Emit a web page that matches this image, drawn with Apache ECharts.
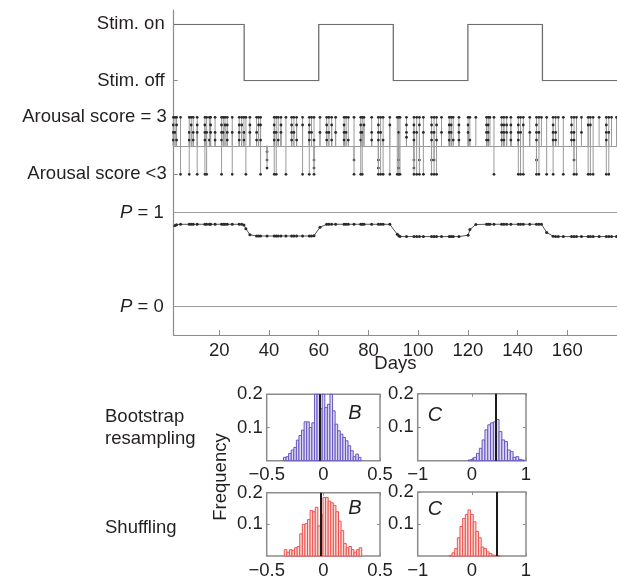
<!DOCTYPE html>
<html><head><meta charset="utf-8">
<script src="https://cdn.jsdelivr.net/npm/echarts@6/dist/echarts.min.js"></script>
<style>html,body{margin:0;padding:0;background:#fff}#c{width:617px;height:580px}</style>
</head><body><div id="c"></div>
<script>
// ---------------- data ----------------
const dayTicks = [20, 40, 60, 80, 100, 120, 140, 160];
const dayMin = 1.65, dayMax = 180;
const stimDays  = [1.65, 30, 60, 90, 120, 150, 180];
const stimState = [1, 0, 1, 0, 1, 0, 0];

// arousal observations: [day, plotted level] (level > 0: score = 3, level < 0: score < 3)
const arousalObs = [
[1.5,1],[1.5,0.73],[1.5,0.47],[1.5,0.2],[2.2,1],[2.2,0.47],[2.8,1],[2.8,0.73],[2.8,0.2],
[4.4,1],[4.4,-1],
[7.9,1],[7.9,0.47],[7.9,0.2],[7.9,-1],[8.7,1],[8.7,0.73],[9.5,1],[9.5,0.47],[9.5,0.2],
[11.1,1],[11.1,0.73],[11.1,0.47],[11.1,-1],
[14.2,1],[14.2,0.73],[14.2,0.47],[14.2,0.2],[14.2,-1],[14.9,1],[14.9,0.47],[14.9,-1],[16.0,1],[16.0,0.2],
[16.5,1],[16.5,0.73],[16.5,0.47],[18.3,1],[18.3,0.47],[18.3,0.2],
[20.9,1],[20.9,0.73],[20.9,0.47],[20.9,0.2],[20.9,-1],[21.6,1],[21.6,0.47],[22.3,1],[22.3,0.73],
[23.2,1],[23.2,0.73],[23.2,0.47],[23.2,0.2],[25.2,1],[25.2,0.47],[25.2,-1],
[28.0,1],[28.0,0.73],[28.0,0.47],[28.0,0.2],[29.0,1],[29.0,0.73],[29.9,1],[29.9,0.47],[29.9,0.2],[30.7,1],[30.7,-1],
[32.3,1],[32.3,0.73],[32.3,0.47],
[35.0,1],[35.0,0.47],[35.0,0.2],[35.8,1],[35.8,0.73],[36.6,1],[36.6,0.73],[36.6,0.2],[36.6,-1],
[39.2,-0.21],[39.2,-0.5],[39.2,-0.78],
[42.1,1],[42.1,0.73],[42.1,0.47],[42.1,0.2],[42.1,-1],[42.9,1],[42.9,0.47],[42.9,-1],[43.7,1],[43.7,0.2],
[44.8,1],[44.8,0.73],[44.8,0.47],[46.8,1],[46.8,-1],
[49.1,1],[49.1,0.73],[49.1,0.47],[49.1,0.2],[50.0,1],[50.0,0.47],[51.1,1],[51.1,0.73],[51.1,0.2],
[53.5,1],[53.5,0.73],[53.5,-1],
[56.2,1],[56.2,0.73],[56.2,0.47],[56.2,0.2],[56.2,-1],[57.1,1],[57.1,0.47],[58.1,1],[58.1,0.2],[58.1,-0.5],[58.1,-0.78],[58.1,-1],
[60.5,1],[60.5,0.47],
[63.2,1],[63.2,0.73],[63.2,0.47],[63.2,0.2],[64.1,1],[64.1,0.47],[65.2,1],[65.2,0.73],[65.2,0.2],
[66.8,1],[66.8,0.47],
[70.2,1],[70.2,0.73],[70.2,0.47],[70.2,0.2],[71.0,1],[71.0,0.47],[71.9,1],[71.9,0.2],
[74.2,1],[74.2,-0.5],[74.2,-1],
[76.9,1],[76.9,0.73],[76.9,0.47],[76.9,0.2],[76.9,-1],[77.5,1],[77.5,0.47],[77.5,-1],[78.2,1],[78.2,0.73],
[81.3,1],[81.3,0.47],[81.3,0.2],
[84.0,1],[84.0,0.73],[84.0,0.47],[84.0,0.2],[84.0,-0.5],[84.0,-0.78],[84.0,-1],[84.9,1],[84.9,0.47],[84.9,-1],[85.9,1],[85.9,0.2],[85.9,-1],
[88.6,1],[88.6,0.73],[88.6,-1],
[91.6,1],[91.6,-1],[92.2,1],[92.2,0.47],[92.2,-0.5],[92.2,-0.78],[92.2,-1],[92.7,1],[92.7,-1],
[95.3,1],[95.3,0.73],[95.3,0.47],[95.3,0.3],
[98.3,1],[98.3,0.73],[98.3,0.47],[98.3,0.2],[98.3,-0.5],[98.3,-0.78],[98.3,-1],[99.4,1],[99.4,0.47],[99.4,-1],[100.5,1],[100.5,0.73],[100.5,-0.5],[100.5,-1],
[102.1,1],[102.1,0.47],[102.1,-1],
[105.4,1],[105.4,0.73],[105.4,0.47],[105.4,0.2],[105.4,-0.5],[105.4,-1],[106.4,1],[106.4,0.47],[106.4,-0.5],[106.4,-1],[107.4,1],[107.4,0.73],[107.4,0.2],[107.4,-1],
[109.4,1],[109.4,0.47],
[112.5,1],[112.5,0.73],[112.5,0.47],[112.5,0.2],[113.3,1],[113.3,0.73],[113.3,0.47],[114.1,1],[114.1,0.2],
[116.4,1],[116.4,0.73],[116.4,0.47],[116.4,0.2],
[120.1,1],[120.1,0.73],[120.1,0.47],[120.8,1],[120.8,0.2],
[123.2,1],
[127.5,1],[127.5,0.73],[127.5,0.47],[127.5,0.2],[128.2,1],[128.2,0.73],[128.2,0.47],[128.2,0.2],[128.9,1],
[130.5,1],[130.5,-1],
[133.6,1],[133.6,0.73],[133.6,0.47],[133.6,0.2],[134.5,1],[134.5,0.73],[134.5,0.47],[134.5,0.2],[135.6,1],[135.6,0.73],[135.6,0.47],
[137.3,1],[137.3,0.73],[137.3,0.47],[137.3,0.2],
[140.3,1],[140.3,0.73],[140.3,0.47],[140.3,0.2],[140.3,-1],[141.2,1],[141.2,0.47],[141.2,-1],[142.3,1],[142.3,0.73],[142.3,-1],
[144.9,1],[144.9,0.47],
[147.6,1],[147.6,0.73],[147.6,0.47],[147.6,0.2],[147.6,-0.5],[147.6,-1],[148.6,1],[148.6,0.47],[148.6,-1],[149.6,1],
[151.7,1],[151.7,-1],
[154.3,1],[154.3,0.73],[154.3,0.47],[154.3,0.2],[154.3,-1],[155.3,1],[155.3,0.47],[155.3,0.2],[156.4,1],
[158.4,1],[158.4,-1],
[161.7,1],[161.7,0.73],[161.7,0.47],[161.7,0.2],[162.7,1],[162.7,0.47],[162.7,0.2],[162.7,-0.5],[162.7,-1],[163.7,1],[163.7,-1],
[165.7,1],[165.7,0.47],
[168.4,1],[168.4,0.73],[168.4,-1],[169.3,1],[169.3,0.73],[169.3,-1],[170.4,1],[170.4,-1],
[172.8,1],
[175.7,1],[175.7,0.73],[175.7,0.47],[175.7,0.2],[175.7,-1],[176.7,1],[176.7,0.47],[176.7,-1],[177.8,1],
[179.8,1]
];

// posterior probability P per observed day
const pDays = [1.5,2.2,2.8,4.4,7.9,8.7,9.5,11.1,14.2,14.9,16.0,16.5,18.3,20.9,21.6,22.3,23.2,25.2,28.0,29.0,29.9,30.7,32.3,35.0,35.8,36.6,39.2,42.1,42.9,43.7,44.8,46.8,49.1,50.0,51.1,53.5,56.2,57.1,58.1,60.5,63.2,64.1,65.2,66.8,70.2,71.0,71.9,74.2,76.9,77.5,78.2,81.3,84.0,84.9,85.9,88.6,91.6,92.2,92.7,95.3,98.3,99.4,100.5,102.1,105.4,106.4,107.4,109.4,112.5,113.3,114.1,116.4,120.1,120.8,123.2,127.5,128.2,128.9,130.5,133.6,134.5,135.6,137.3,140.3,141.2,142.3,144.9,147.6,148.6,149.6,151.7,154.3,155.3,156.4,158.4,161.7,162.7,163.7,165.7,168.4,169.3,170.4,172.8,175.7,176.7,177.8,179.8];
const pValues = [0.85,0.865,0.872,0.876,0.877,0.877,0.877,0.877,0.877,0.877,0.877,0.877,0.877,0.877,0.877,0.877,0.877,0.877,0.877,0.877,0.868,0.83,0.765,0.753,0.752,0.752,0.752,0.752,0.752,0.752,0.752,0.752,0.752,0.752,0.752,0.752,0.752,0.752,0.755,0.845,0.876,0.877,0.877,0.877,0.877,0.877,0.877,0.877,0.877,0.877,0.877,0.877,0.877,0.877,0.877,0.876,0.77,0.755,0.748,0.746,0.746,0.746,0.746,0.746,0.746,0.746,0.746,0.746,0.746,0.746,0.746,0.746,0.76,0.82,0.874,0.877,0.877,0.877,0.877,0.877,0.877,0.877,0.877,0.877,0.877,0.877,0.877,0.877,0.877,0.877,0.79,0.75,0.747,0.746,0.746,0.746,0.746,0.746,0.746,0.746,0.746,0.746,0.746,0.746,0.746,0.746,0.746];

// histograms: first bin edge, bin width, frequencies, observed value
const bootBStart = -0.352, bootBWidth = 0.0228;
const bootBFreq = [0.01,0.012,0.022,0.032,0.04,0.062,0.076,0.092,0.117,0.117,0.1,0.114,0.21,0.21,0.157,0.21,0.16,0.17,0.21,0.15,0.11,0.09,0.08,0.07,0.06,0.045,0.03,0.012,0.02,0.01];
const bootBObs = -0.03;
const bootCStart = -0.07, bootCWidth = 0.052;
const bootCFreq = [0.002,0.004,0.01,0.022,0.037,0.062,0.092,0.107,0.113,0.116,0.123,0.087,0.062,0.057,0.032,0.027,0.01,0.012,0.004,0.002];
const bootCObs = 0.45;
const shufBStart = -0.345, shufBWidth = 0.0228;
const shufBFreq = [0.02,0.012,0.02,0.018,0.026,0.03,0.07,0.1,0.102,0.115,0.144,0.14,0.154,0.095,0.13,0.185,0.185,0.173,0.168,0.16,0.14,0.11,0.08,0.04,0.026,0.03,0.02,0.012,0.02,0.026];
const shufBObs = -0.02;
const shufCStart = -0.415, shufCWidth = 0.049;
const shufCFreq = [0.002,0.01,0.023,0.057,0.092,0.117,0.13,0.144,0.13,0.107,0.077,0.057,0.028,0.023,0.013,0.008,0.003,0.002,0.001];
const shufCObs = 0.46;

// ---------------- chart ----------------
const FONT = '"Liberation Sans", Arial, Helvetica, sans-serif';
const TXT = '#231f20';
const AX = '#8c8c8c';
const chart = echarts.init(document.getElementById('c'), null, {renderer: 'canvas'});

function binsOf(start, width, freq) {
  return freq.map((f, i) => [start + i * width, start + (i + 1) * width, f]);
}
function histRender(edge, fill) {
  return function (params, api) {
    const a = api.coord([api.value(0), api.value(2)]);
    const b = api.coord([api.value(1), 0]);
    const cs = params.coordSys;
    const r = echarts.graphic.clipRectByRect(
      {x: a[0], y: a[1], width: b[0] - a[0], height: b[1] - a[1]},
      {x: cs.x, y: cs.y, width: cs.width, height: cs.height});
    if (!r) return;
    return {type: 'rect', shape: r, style: {fill: fill, stroke: edge, lineWidth: 1}};
  };
}
const grids = [
  {left: 173.7, right: 0, top: 10, bottom: 245},
  {left: 173.7, right: 0, top: 24.3, height: 56.4},
  {left: 173.7, right: 0, top: 117.3, height: 57},
  {left: 266.7, top: 394.3, width: 113.3, height: 66.4},
  {left: 417.7, top: 393.7, width: 108.3, height: 67},
  {left: 266.7, top: 492.7, width: 113.3, height: 68},
  {left: 417.7, top: 492, width: 108.3, height: 67.3}
];
grids.forEach((g, i) => {
  g.containLabel = false;
  if (i >= 3) { g.show = true; g.borderColor = AX; g.borderWidth = 1.5; g.backgroundColor = 'transparent'; }
});

const lbl = {fontFamily: FONT, fontSize: 18.5, color: TXT};
const xAxes = [
  {gridIndex: 0, type: 'value', min: dayMin, max: dayMax,
   axisLine: {show: true, onZero: false, lineStyle: {color: AX, width: 1.2}},
   axisTick: {show: true, inside: true, length: 5, lineStyle: {color: AX}, customValues: dayTicks},
   axisLabel: Object.assign({margin: 6, customValues: dayTicks}, lbl),
   splitLine: {show: false},
   name: 'Days', nameLocation: 'middle', nameGap: 19, nameMoveOverlap: false, nameTextStyle: lbl},
  {gridIndex: 1, type: 'value', min: dayMin, max: dayMax, show: false},
  {gridIndex: 2, type: 'value', min: dayMin, max: dayMax, show: false}
];
const yAxes = [
  {gridIndex: 0, type: 'value', min: -0.301, max: 3.156,
   axisLine: {show: true, onZero: false, lineStyle: {color: AX, width: 1.2}},
   axisTick: {show: true, inside: true, length: 4, lineStyle: {color: AX}, customValues: [0, 1]},
   axisLabel: Object.assign({margin: 10, customValues: [0, 1],
     formatter: v => '{i|P} = ' + v,
     rich: {i: {fontStyle: 'italic', fontFamily: FONT, fontSize: 18.5, color: TXT}}}, lbl),
   splitLine: {show: false}},
  {gridIndex: 1, type: 'value', min: 0, max: 1,
   axisLine: {show: false, onZero: false},
   axisTick: {show: true, inside: true, length: 4, lineStyle: {color: AX}, customValues: [0, 1]},
   axisLabel: Object.assign({margin: 9, customValues: [0, 1],
     formatter: v => v === 1 ? 'Stim. on' : 'Stim. off'}, lbl),
   splitLine: {show: false}},
  {gridIndex: 2, type: 'value', min: -1, max: 1,
   axisLine: {show: false, onZero: false},
   axisTick: {show: true, inside: true, length: 4, lineStyle: {color: AX}, customValues: [-1, 1]},
   axisLabel: Object.assign({margin: 7, customValues: [-1, 1],
     formatter: v => v === 1 ? 'Arousal score = 3' : 'Arousal score <3'}, lbl),
   splitLine: {show: false}}
];
const minus = v => (v < 0 ? '\u2212' + (-v) : '' + v);
const histCfg = [
  {g: 3, min: -0.5, max: 0.5, ticks: [-0.5, 0, 0.5]},
  {g: 4, min: -1, max: 1, ticks: [-1, 0, 1]},
  {g: 5, min: -0.5, max: 0.5, ticks: [-0.5, 0, 0.5]},
  {g: 6, min: -1, max: 1, ticks: [-1, 0, 1]}
];
const histXIdx = [], histYIdx = [];
histCfg.forEach(h => {
  histXIdx.push(xAxes.length);
  xAxes.push({gridIndex: h.g, type: 'value', min: h.min, max: h.max, position: 'bottom',
    axisLine: {show: false, onZero: false},
    axisTick: {show: true, inside: true, length: 3, lineStyle: {color: AX}, customValues: h.ticks},
    axisLabel: Object.assign({margin: 5, customValues: h.ticks, formatter: minus}, lbl),
    splitLine: {show: false}});
  xAxes.push({gridIndex: h.g, type: 'value', min: h.min, max: h.max, position: 'top',
    axisLine: {show: false, onZero: false},
    axisTick: {show: true, inside: true, length: 3, lineStyle: {color: AX}, customValues: h.ticks},
    axisLabel: {show: false}, splitLine: {show: false}});
  histYIdx.push(yAxes.length);
  yAxes.push({gridIndex: h.g, type: 'value', min: 0, max: 0.2, position: 'left',
    axisLine: {show: false, onZero: false},
    axisTick: {show: true, inside: true, length: 3, lineStyle: {color: AX}, customValues: [0.1, 0.2]},
    axisLabel: Object.assign({margin: 4, customValues: [0.1, 0.2], formatter: v => v.toFixed(1)}, lbl),
    splitLine: {show: false}});
  yAxes.push({gridIndex: h.g, type: 'value', min: 0, max: 0.2, position: 'right',
    axisLine: {show: false, onZero: false},
    axisTick: {show: true, inside: true, length: 3, lineStyle: {color: AX}, customValues: [0.1]},
    axisLabel: {show: false}, splitLine: {show: false}});
});

const BLUE = '#6656c0', BLUEF = '#dcd7f1', RED = '#ec5350', REDF = '#fcd9d5';
const hists = [
  {bins: binsOf(bootBStart, bootBWidth, bootBFreq), obs: bootBObs, e: BLUE, f: BLUEF},
  {bins: binsOf(bootCStart, bootCWidth, bootCFreq), obs: bootCObs, e: BLUE, f: BLUEF},
  {bins: binsOf(shufBStart, shufBWidth, shufBFreq), obs: shufBObs, e: RED, f: REDF},
  {bins: binsOf(shufCStart, shufCWidth, shufCFreq), obs: shufCObs, e: RED, f: REDF}
];

const series = [
  {type: 'line', xAxisIndex: 1, yAxisIndex: 1, step: 'end', symbol: 'none',
   data: stimDays.map((d, i) => [d, stimState[i]]),
   lineStyle: {color: '#6e6e6e', width: 1.3}, silent: true, animation: false},
  {type: 'custom', xAxisIndex: 2, yAxisIndex: 2, data: arousalObs, animation: false, silent: true,
   renderItem: function (params, api) {
     const p0 = api.coord([api.value(0), 0]);
     const p1 = api.coord([api.value(0), api.value(1)]);
     return {type: 'group', children: [
       {type: 'line', shape: {x1: p0[0], y1: p0[1], x2: p1[0], y2: p1[1]}, style: {stroke: '#9a9a9a', lineWidth: 1}},
       {type: 'circle', shape: {cx: p1[0], cy: p1[1], r: 1.4}, style: {fill: '#2a2a2a'}}
     ]};
   },
   markLine: {silent: true, symbol: 'none', label: {show: false},
     lineStyle: {color: '#9a9a9a', width: 1.2, type: 'solid'}, data: [{yAxis: 0}]}},
  {type: 'line', xAxisIndex: 0, yAxisIndex: 0, data: pDays.map((d, i) => [d, pValues[i]]),
   symbol: 'circle', symbolSize: 3, showSymbol: true,
   itemStyle: {color: '#2a2a2a'}, lineStyle: {color: '#555', width: 1}, animation: false, silent: true,
   markLine: {silent: true, symbol: 'none', label: {show: false},
     lineStyle: {color: '#9a9a9a', width: 1.2, type: 'solid'}, data: [{yAxis: 0}, {yAxis: 1}]}}
];
hists.forEach((h, k) => {
  series.push({type: 'custom', xAxisIndex: histXIdx[k], yAxisIndex: histYIdx[k], data: h.bins,
    renderItem: histRender(h.e, h.f), animation: false, silent: true,
    markLine: {silent: true, symbol: 'none', label: {show: false},
      lineStyle: {color: '#1a1a1a', width: 2, type: 'solid'}, data: [{xAxis: h.obs}]}});
});

const italic = {fontFamily: FONT, fontSize: 20, fontStyle: 'italic', fill: TXT};
chart.setOption({
  backgroundColor: '#ffffff',
  animation: false,
  grid: grids,
  xAxis: xAxes,
  yAxis: yAxes,
  series: series,
  graphic: [
    {type: 'text', left: 105, top: 406, style: {text: 'Bootstrap\nresampling', fontFamily: FONT, fontSize: 18.5, lineHeight: 22, fill: TXT}},
    {type: 'text', left: 105, top: 518, style: {text: 'Shuffling', fontFamily: FONT, fontSize: 18.5, fill: TXT}},
    {type: 'text', x: 221, y: 477, rotation: Math.PI / 2,
     style: {text: 'Frequency', fontFamily: FONT, fontSize: 18.5, fill: TXT, align: 'center', verticalAlign: 'middle'}},
    {type: 'text', x: 355, y: 413, style: Object.assign({text: 'B', align: 'center', verticalAlign: 'middle'}, italic)},
    {type: 'text', x: 355, y: 508, style: Object.assign({text: 'B', align: 'center', verticalAlign: 'middle'}, italic)},
    {type: 'text', x: 435, y: 415, style: Object.assign({text: 'C', align: 'center', verticalAlign: 'middle'}, italic)},
    {type: 'text', x: 435, y: 509, style: Object.assign({text: 'C', align: 'center', verticalAlign: 'middle'}, italic)}
  ]
});
</script>
</body></html>
